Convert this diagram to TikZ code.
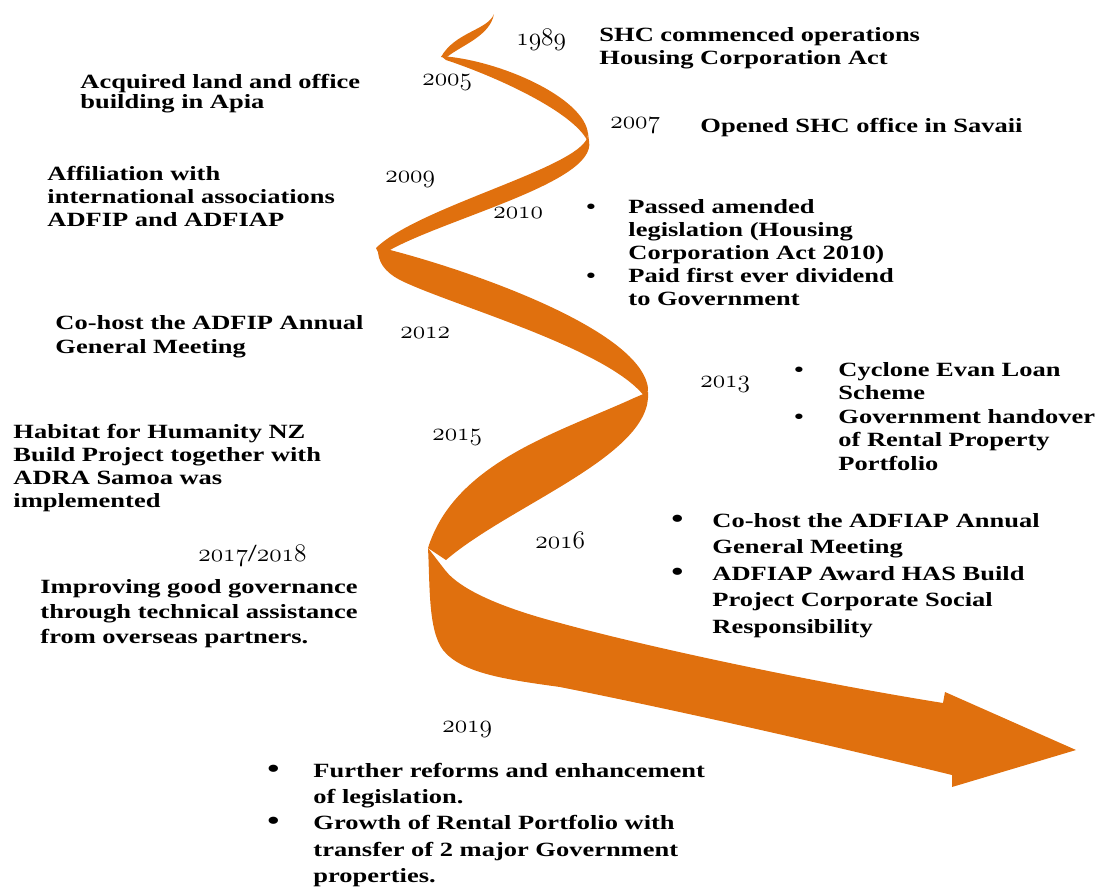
\documentclass[tikz,border=0pt]{standalone}
\usepackage{fontspec}
\setmainfont{Liberation Serif}[FakeStretch=1.31]
\usepackage{tikz}
\usetikzlibrary{
	calc,
	positioning
}
\definecolor{ribbonorange}{RGB}{224,112,14}
\tikzset{every path/.append style={line width=0.5pt}}
\tikzset{
	ribbon/.style={fill=ribbonorange},
	event/.style={inner sep=0pt,anchor=base west,font=\bfseries},
	year/.style={inner sep=0pt,anchor=base west}
}
\newcommand{\yr}[1]{{\fontsize{14.4}{16}\usefont{OML}{cmm}{m}{it}#1}}
\newcommand{\bigdot}{{\fontsize{15}{15}\selectfont\textbullet}}
\newcommand{\tlLines}[2]{{\fontsize{11.5}{#1}\selectfont\begin{tabular}[t]{@{}l@{}}#2\end{tabular}}}
\newcommand{\tlBullets}[3]{{\fontsize{11.5}{#1}\selectfont\begin{tabular}[t]{@{}p{#2}@{}l@{}}#3\end{tabular}}}

\begin{document}
\begin{tikzpicture}[x=0.2mm,y=-0.2mm]
	\useasboundingbox (0,0) rectangle (1102,887);
	
	% ribbon
	\fill[ribbon] (494,14) .. controls (488,30) and (455,32) .. (441,57) -- (447,57) .. controls (462,45) and (490,36) .. (494,14) -- cycle;
	\fill[ribbon] (441,56) .. controls (500,60) and (585,98) .. (588,134) -- (587,140) .. controls (572,112) and (500,78) .. (446,60) -- cycle;
	\fill[ribbon] (588,133) .. controls (592,165) and (420,205) .. (376,248) -- (380,256) .. controls (430,222) and (598,184) .. (589,141) -- cycle;
	\fill[ribbon] (378,247) .. controls (450,264) and (640,326) .. (648,388) -- (647,400) .. controls (615,350) and (450,305) .. (400,280) .. controls (385,272) and (377,262) .. (378,247) -- cycle;
	\fill[ribbon] (648,392) .. controls (653,455) and (510,505) .. (446,560) -- (428,548) .. controls (455,462) and (560,432) .. (634,398) -- cycle;
	\fill[ribbon] (428,548) .. controls (430,585) and (428,630) .. (443,650) .. controls (462,674) and (510,680) .. (560,687) .. controls (700,715) and (850,750) .. (952,775) -- (952,787) -- (1076,750) -- (945,692) -- (943,703) .. controls (800,680) and (640,645) .. (560,623) .. controls (510,610) and (462,592) .. (445,570) -- cycle;
	
	% years
	\node[year] (y1989) at (516,45) {\yr{1989}};
	\node[year] (y2005) at (422,85) {\yr{2005}};
	\node[year] (y2007) at (610,128) {\yr{2007}};
	\node[year] (y2009) at (385,182) {\yr{2009}};
	\node[year] (y2010) at (493,218) {\yr{2010}};
	\node[year] (y2012) at (400,338) {\yr{2012}};
	\node[year] (y2013) at (700,387) {\yr{2013}};
	\node[year] (y2015) at (432,440) {\yr{2015}};
	\node[year,fill=white,anchor=north west,inner xsep=4mm,inner ysep=2mm] (y2016) at (515,522) {\yr{2016}};
	\node[year] (y2017) at (198,561) {\yr{2017}{\fontsize{14}{16}\selectfont/}\yr{2018}};
	\node[year] (y2019) at (442,732) {\yr{2019}};
	
	% events
	\node[event] (shc) at (599,41) {\tlLines{13.1pt}{SHC commenced operations\\Housing Corporation Act}};
	\node[event] (apia) at (80,88) {\tlLines{11.4pt}{Acquired land and office\\building in Apia}};
	\node[event] (savaii) at (700,132) {\tlLines{13.1pt}{Opened SHC office in Savaii}};
	\node[event] (affil) at (47,180) {\tlLines{13.1pt}{Affiliation with\\international associations\\ADFIP and ADFIAP}};
	\node[event] (act) at (586,213) {\tlBullets{13.1pt}{8.4mm}{\textbullet & Passed amended\\ & legislation (Housing\\ & Corporation Act 2010)\\ \textbullet & Paid first ever dividend\\ & to Government}};
	\node[event] (adfip) at (55,329) {\tlLines{13.7pt}{Co-host the ADFIP Annual\\General Meeting}};
	\node[event] (evan) at (794,376) {\tlBullets{13.4pt}{8.8mm}{\textbullet & Cyclone Evan Loan\\ & Scheme\\ \textbullet & Government handover\\ & of Rental Property\\ & Portfolio}};
	\node[event] (habitat) at (13,438) {\tlLines{13.1pt}{Habitat for Humanity NZ\\Build Project together with\\ADRA Samoa was\\implemented}};
	\node[event] (adfiap) at (671,527) {\tlBullets{15.1pt}{8.2mm}{\bigdot & Co-host the ADFIAP Annual\\ & General Meeting\\ \bigdot & ADFIAP Award HAS Build\\ & Project Corporate Social\\ & Responsibility}};
	\node[event] (gov) at (40,593) {\tlLines{14.5pt}{Improving good governance\\through technical assistance\\from overseas partners.}};
	\node[event] (reform) at (267,777) {\tlBullets{15pt}{9.2mm}{\bigdot & Further reforms and enhancement\\ & of legislation.\\ \bigdot & Growth of Rental Portfolio with\\ & transfer of 2 major Government\\ & properties.}};
\end{tikzpicture}
\end{document}
